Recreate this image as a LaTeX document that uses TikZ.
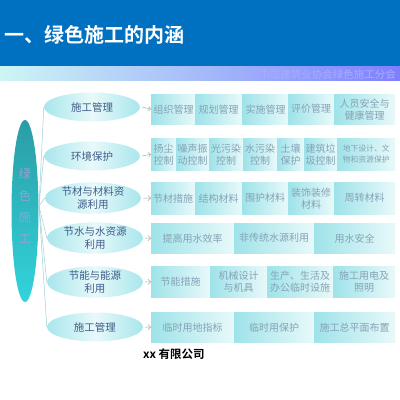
\documentclass[tikz,border=0pt]{standalone}
\usepackage{fontspec}
\setmainfont{Noto Sans CJK SC}
\newfontfamily\cjk{Noto Sans CJK SC}
\newfontfamily\cjkb{Noto Sans CJK SC Bold}
\usetikzlibrary{shapes.geometric,arrows.meta}
\definecolor{hdrblue}{HTML}{0070C0}
\definecolor{bandL}{HTML}{CCF6F4}
\definecolor{bandR}{HTML}{7F7FFF}
\definecolor{bandtxt}{HTML}{A6AEFF}
\definecolor{bigtop}{HTML}{2A9DA6}
\definecolor{bigbot}{HTML}{32D4DC}
\definecolor{bigtxt}{HTML}{8EA6D2}
\definecolor{elside}{HTML}{A8E6EC}
\definecolor{elmid}{HTML}{E8F9FA}
\definecolor{eltxt}{HTML}{3E5C88}
\definecolor{boxL}{HTML}{9EE3E9}
\definecolor{boxR}{HTML}{E9F9FA}
\definecolor{boxtxt}{HTML}{86A2B6}
\definecolor{linkc}{HTML}{9CCFD4}
\definecolor{arrc}{HTML}{9AAEB8}
\tikzset{
  bx/.style={rectangle, anchor=north west, inner sep=0pt, align=center,
    left color=boxL, right color=boxR, draw=none, text=boxtxt,
    font=\cjk\fontsize{10}{12}\selectfont},
  sel/.style={ellipse, inner sep=0pt, align=center, minimum width=96, minimum height=29,
    left color=elside, right color=elside, middle color=elmid, draw=none, text=eltxt,
    font=\cjk\fontsize{10.5}{12.5}\selectfont},
  lnk/.style={draw=linkc, line width=0.5pt},
  arr/.style={draw=arrc, line width=0.5pt, -{Straight Barb[length=2.5pt,width=5pt]}}
}
\begin{document}
\begin{tikzpicture}[x=1pt,y=-1pt]
\useasboundingbox (0,0) rectangle (400,400);
\fill[white] (0,0) rectangle (400,400);
% header
\fill[hdrblue] (0,0) rectangle (400,66);
\shade[left color=bandL, right color=bandR] (0,66) rectangle (400,80);
\node[anchor=west, text=white, inner sep=0pt, font=\cjkb\fontsize{20}{22}\selectfont] (title) at (4,35) {一、绿色施工的内涵};
\node[anchor=east, text=bandtxt, inner sep=0pt, font=\cjk\fontsize{10.5}{12}\selectfont] (band) at (396,74) {中国建筑业协会绿色施工分会};
% big ellipse
\node[ellipse, minimum width=27, minimum height=182, inner sep=0pt, top color=bigtop, bottom color=bigbot, draw=none] (big) at (25,211) {};
\node[text=bigtxt, align=center, inner sep=0pt, font=\cjk\fontsize{12}{21.5}\selectfont] (bigt) at (25,206) {绿\\色\\施\\工};
\coordinate (hub) at (39,206);
% small ellipses
\node[sel] (e1) at (92,107) {施工管理};
\node[sel] (e2) at (92,156) {环境保护};
\node[sel, minimum height=31] (e3) at (93,198) {节材与材料资\\源利用};
\node[sel, minimum height=31] (e4) at (95,238) {节水与水资源\\利用};
\node[sel, minimum height=31] (e5) at (95,282) {节能与能源\\利用};
\node[sel] (e6) at (95,327) {施工管理};
% links
\foreach \e in {e1,e2,e3,e4,e5,e6} \draw[lnk] (hub) -- (\e.west);
% row 1
\node[bx, minimum width=45, minimum height=30] (a1) at (151,94) {组织管理};
\node[bx, minimum width=47, minimum height=30] (a2) at (195,94) {规划管理};
\node[bx, minimum width=47, minimum height=30] (a3) at (242,94) {实施管理};
\node[bx, minimum width=46, minimum height=30] (a4) at (288,94) {评价管理};
\node[bx, minimum width=61, minimum height=30] (a5) at (334,94) {人员安全与\\健康管理};
% row 2
\node[bx, minimum width=25, minimum height=32] (b1) at (151,138) {扬尘\\控制};
\node[bx, minimum width=33, minimum height=32] (b2) at (176,138) {噪声振\\动控制};
\node[bx, minimum width=34, minimum height=32] (b3) at (209,138) {光污染\\控制};
\node[bx, minimum width=34, minimum height=32] (b4) at (243,138) {水污染\\控制};
\node[bx, minimum width=27, minimum height=32] (b5) at (277,138) {土壤\\保护};
\node[bx, minimum width=33, minimum height=32] (b6) at (304,138) {建筑垃\\圾控制};
\node[bx, minimum width=58, minimum height=32, font=\cjk\fontsize{7.8}{10.5}\selectfont] (b7) at (337,138) {地下设计、文\\物和资源保护};
% row 3
\node[bx, minimum width=44, minimum height=32] (c1) at (151,182) {节材措施};
\node[bx, minimum width=47, minimum height=32] (c2) at (195,182) {结构材料};
\node[bx, minimum width=46, minimum height=32] (c3) at (242,182) {围护材料};
\node[bx, minimum width=46, minimum height=32] (c4) at (288,182) {装饰装修\\材料};
\node[bx, minimum width=61, minimum height=32] (c5) at (334,182) {周转材料};
% row 4
\node[bx, minimum width=83, minimum height=30] (d1) at (151,223) {提高用水效率};
\node[bx, minimum width=80, minimum height=30] (d2) at (234,223) {非传统水源利用};
\node[bx, minimum width=81, minimum height=30] (d3) at (314,223) {用水安全};
% row 5
\node[bx, minimum width=59, minimum height=31] (f1) at (151,266) {节能措施};
\node[bx, minimum width=57, minimum height=31] (f2) at (210,266) {机械设计\\与机具};
\node[bx, minimum width=66, minimum height=31] (f3) at (267,266) {生产、生活及\\办公临时设施};
\node[bx, minimum width=62, minimum height=31] (f4) at (333,266) {施工用电及\\照明};
% row 6
\node[bx, minimum width=83, minimum height=30] (g1) at (151,312) {临时用地指标};
\node[bx, minimum width=80, minimum height=30] (g2) at (234,312) {临时用保护};
\node[bx, minimum width=81, minimum height=30] (g3) at (314,312) {施工总平面布置};
% arrows
\draw[arr] ([xshift=2pt]e1.east) -- (a1.west);
\draw[arr] ([xshift=2pt]e2.east) -- (b1.west);
\draw[arr] ([xshift=2pt]e3.east) -- (c1.west);
\draw[arr] ([xshift=2pt]e4.east) -- (d1.west);
\draw[arr] ([xshift=2pt]e5.east) -- (f1.west);
\draw[arr] ([xshift=2pt]e6.east) -- (g1.west);
% footer
\node[anchor=west, inner sep=0pt, font=\cjkb\fontsize{11.5}{13}\selectfont] (corp) at (143,354) {xx 有限公司};
\end{tikzpicture}
\end{document}
